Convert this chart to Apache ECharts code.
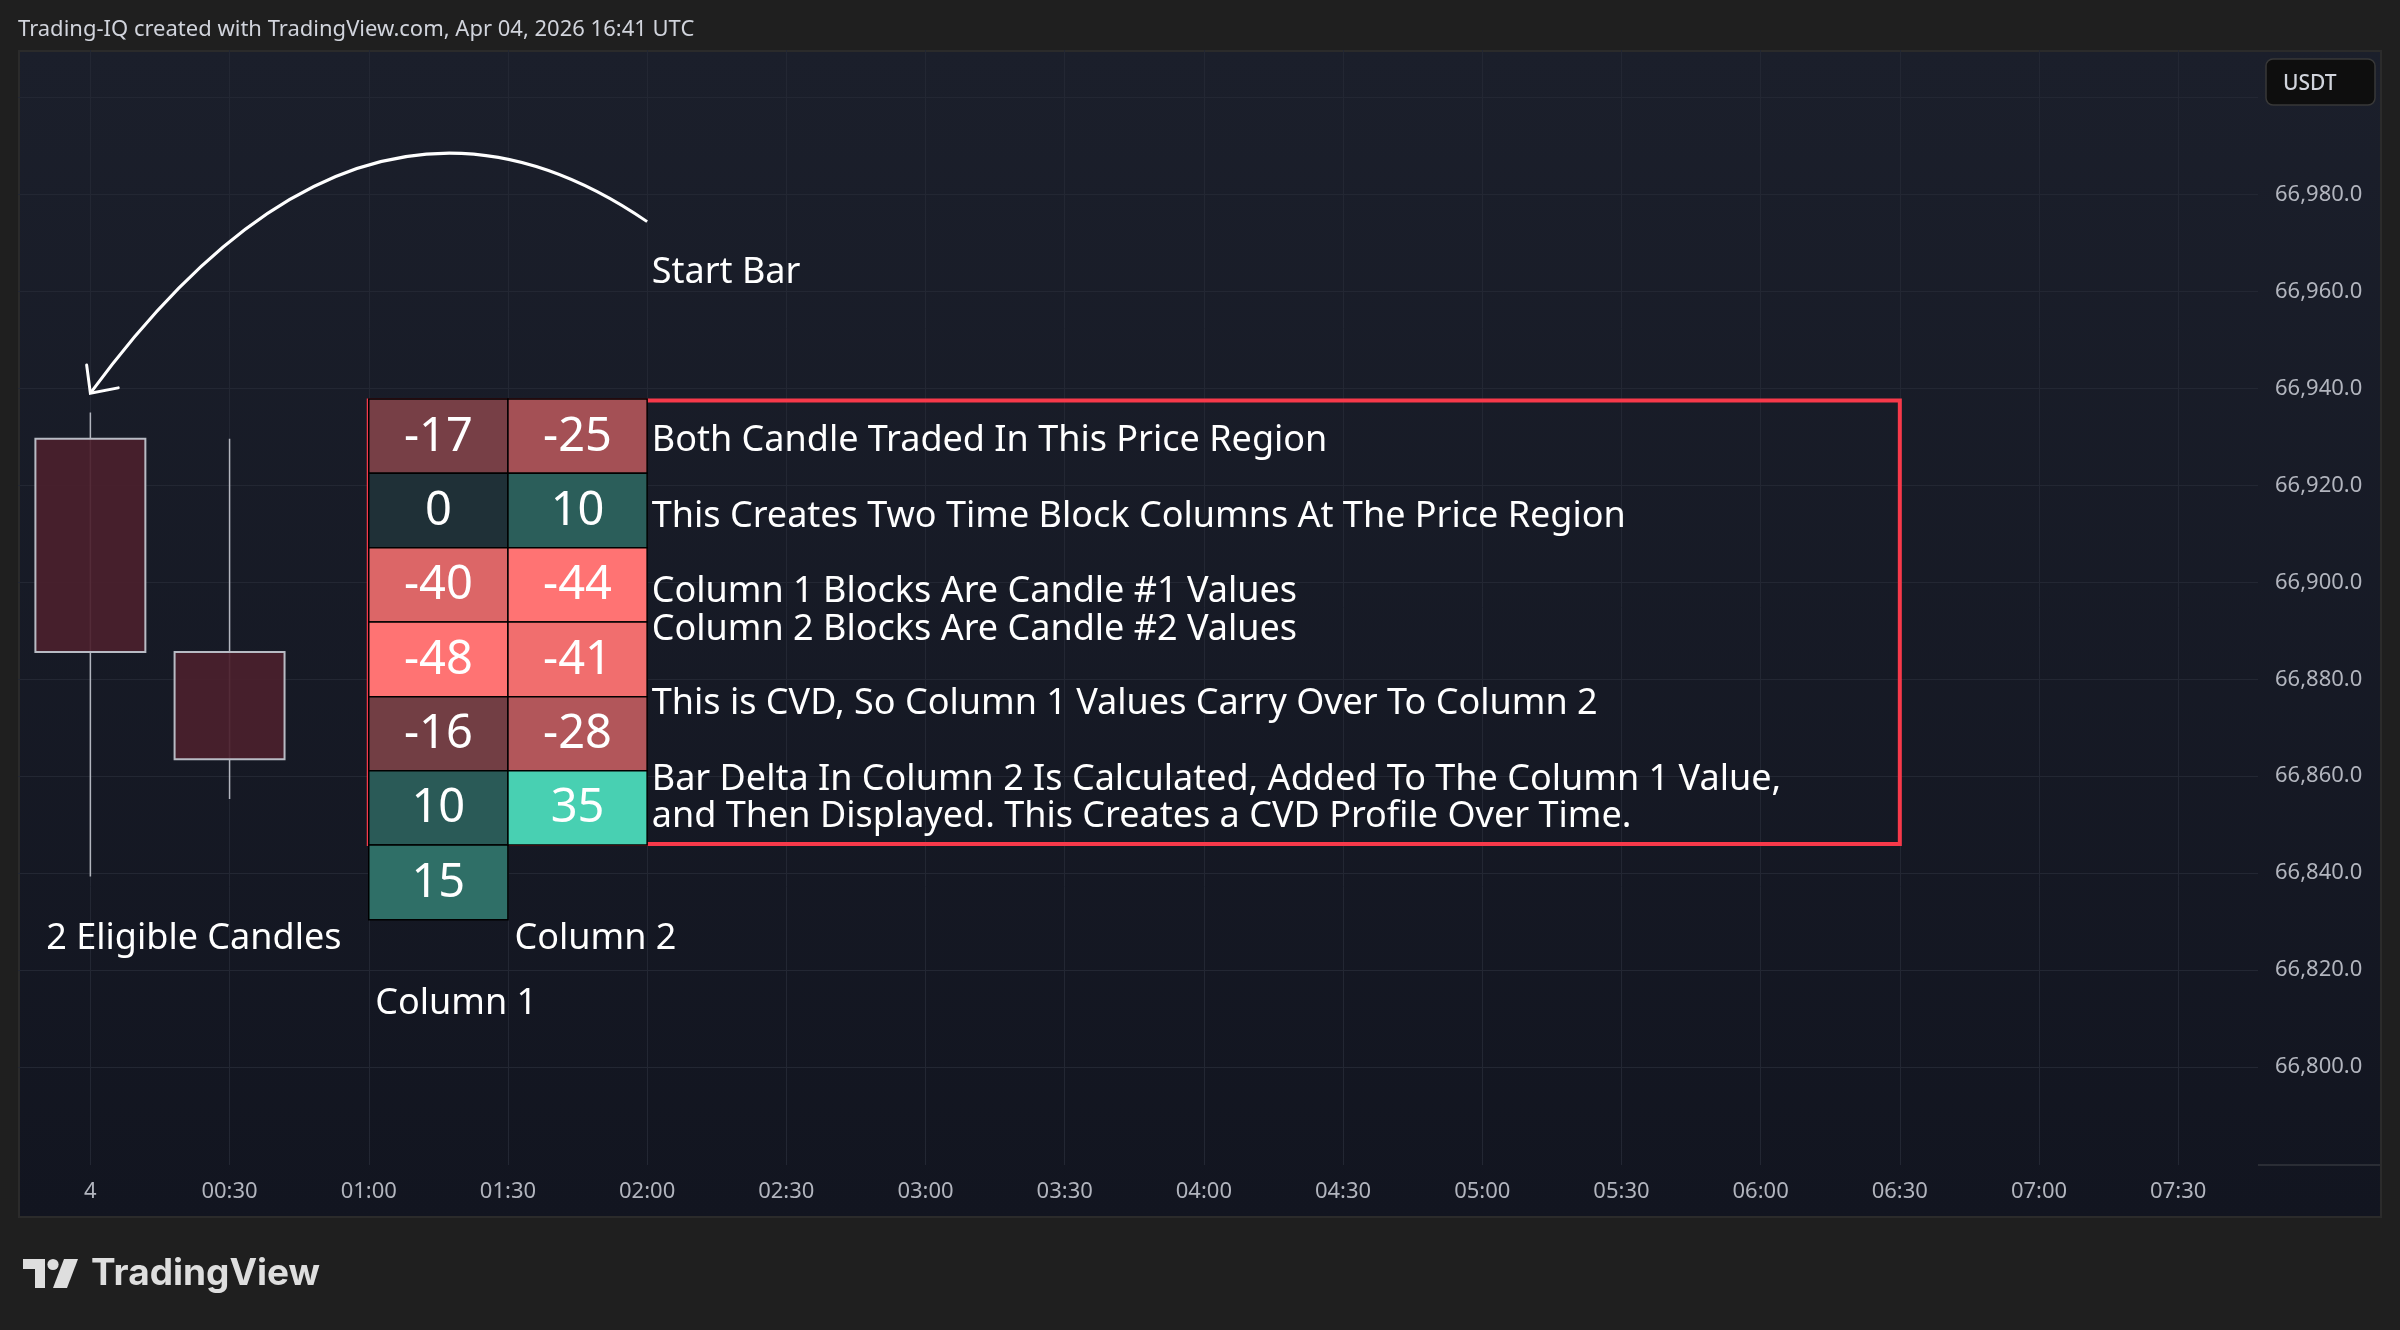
<!DOCTYPE html>
<html>
<head>
<meta charset="utf-8">
<title>CVD Blocks</title>
<script src="https://cdn.jsdelivr.net/npm/echarts@6/dist/echarts.min.js"></script>
<style>
html,body{margin:0;padding:0;background:#1f1f1f;}
#chart{width:2400px;height:1330px;}
</style>
</head>
<body>
<div id="chart"></div>
<script>
// 时间: 4日 00:00 起的分钟数
var timeTicks = [0, 30, 60, 90, 120, 150, 180, 210, 240, 270, 300, 330, 360, 390, 420, 450];
var priceTicks = [66800, 66820, 66840, 66860, 66880, 66900, 66920, 66940, 66960, 66980, 67000];
var priceLabels = [66800, 66820, 66840, 66860, 66880, 66900, 66920, 66940, 66960, 66980];

// 两根30分钟K线
var candleTimes = [0, 30];
var candleOpen = [66929.6, 66885.6];
var candleClose = [66885.6, 66863.5];
var candleLow = [66839.3, 66855.3];
var candleHigh = [66935.0, 66929.6];

// CVD 块 (列边界时间, 行边界价格)
var columnTimes = [60, 90, 120];
var rowEdges = [66937.8, 66922.5, 66907.1, 66891.8, 66876.4, 66861.1, 66845.8, 66830.4];
var column1 = [-17, 0, -40, -48, -16, 10, 15];
var column2 = [-25, 10, -44, -41, -28, 35];

// 红框
var boxTimes = [60, 390];
var boxPrices = [66846, 66937.5];

// 文字标注
var noteTimes = [121, 121, 121, 121, 121, 121, 121, 121, -9.5, 91.4, 61.4];
var notePrices = [66963.8, 66929.2, 66913.5, 66898.0, 66890.2, 66875.0, 66859.2, 66851.6, 66826.4, 66826.4, 66813.1];
var noteTexts = [
  'Start Bar',
  'Both Candle Traded In This Price Region',
  'This Creates Two Time Block Columns At The Price Region',
  'Column 1 Blocks Are Candle #1 Values',
  'Column 2 Blocks Are Candle #2 Values',
  'This is CVD, So Column 1 Values Carry Over To Column 2',
  'Bar Delta In Column 2 Is Calculated, Added To The Column 1 Value,',
  'and Then Displayed. This Creates a CVD Profile Over Time.',
  '2 Eligible Candles',
  'Column 2',
  'Column 1'
];

// 弧形箭头 (起点, 控制点, 终点) 和箭头头部
var arrowTimes = [120, 58.1, 0];
var arrowPrices = [66974.4, 67015, 66939.0];
var headTimes = [-0.8, 0, 6.0];
var headPrices = [66944.8, 66939.0, 66940.1];

var FONT = '"Noto Sans", "Open Sans", sans-serif';

function pad(n){ return n < 10 ? '0' + n : '' + n; }
function timeFmt(v){
  if (v === 0) return '4';
  return pad(Math.floor(v / 60)) + ':' + pad(v % 60);
}
function priceFmt(v){
  var s = v.toFixed(1);
  var ip = s.split('.')[0], dp = s.split('.')[1];
  return ip.slice(0, ip.length - 3) + ',' + ip.slice(ip.length - 3) + '.' + dp;
}

// 颜色: 按列内最大绝对值归一
function mix(a, b, t){
  return 'rgb(' + Math.round(a[0] + (b[0] - a[0]) * t) + ',' + Math.round(a[1] + (b[1] - a[1]) * t) + ',' + Math.round(a[2] + (b[2] - a[2]) * t) + ')';
}
function blockColor(v, maxAbs){
  var t = Math.abs(v) / maxAbs;
  if (v < 0) return mix([44, 35, 45], [255, 115, 115], t);
  return mix([31, 48, 55], [82, 249, 210], t);
}

var blockData = [];
[column1, column2].forEach(function(col, ci){
  var maxAbs = Math.max.apply(null, col.map(Math.abs));
  col.forEach(function(v, ri){
    blockData.push([columnTimes[ci], columnTimes[ci + 1], rowEdges[ri + 1], rowEdges[ri], v, maxAbs]);
  });
});

var candleData = candleTimes.map(function(t, i){
  return [t, candleOpen[i], candleClose[i], candleLow[i], candleHigh[i]];
});

var noteData = noteTimes.map(function(t, i){ return [t, notePrices[i]]; });

var chart = echarts.init(document.getElementById('chart'));

var option = {
  backgroundColor: 'transparent',
  animation: false,
  grid: { left: 18, top: 50, width: 2240, height: 1115 },
  xAxis: {
    type: 'value',
    min: -15.6,
    max: 467.2,
    axisLine: { show: false },
    axisTick: { show: false, customValues: timeTicks },
    axisLabel: {
      customValues: timeTicks,
      formatter: timeFmt,
      color: '#b2b5be',
      fontFamily: FONT,
      fontSize: 22,
      margin: 16
    },
    splitLine: { show: true, lineStyle: { color: '#232733', width: 1 } }
  },
  yAxis: {
    type: 'value',
    position: 'right',
    min: 66779.8,
    max: 67009.8,
    axisLine: { show: false },
    axisTick: { show: false, customValues: priceTicks },
    axisLabel: {
      customValues: priceLabels,
      formatter: priceFmt,
      color: '#b2b5be',
      fontFamily: FONT,
      fontSize: 22,
      margin: 17,
      padding: [4, 0, 0, 0]
    },
    splitLine: { show: true, lineStyle: { color: '#232733', width: 1 } }
  },
  graphic: {
    elements: [
      { type: 'rect', z: -10, shape: { x: 19, y: 51, width: 2362, height: 1166 },
        style: { fill: { type: 'linear', x: 0, y: 0, x2: 0, y2: 1, colorStops: [
          { offset: 0, color: '#1b1f2b' }, { offset: 1, color: '#121520' } ] },
          stroke: '#2b2b2b', lineWidth: 2 } },
      { type: 'line', z: 5, shape: { x1: 2258, y1: 1165, x2: 2380, y2: 1165 }, style: { stroke: '#2a2d35', lineWidth: 2 } },
      { type: 'text', z: 5, x: 18, y: 30, style: { text: 'Trading-IQ created with TradingView.com, Apr 04, 2026 16:41 UTC',
          fill: '#d1d4dc', font: '22px ' + FONT, verticalAlign: 'middle' } },
      { type: 'rect', z: 20, shape: { x: 2266, y: 59, width: 109, height: 46, r: 7 },
        style: { fill: '#0e0e0e', stroke: '#383838', lineWidth: 1.5 } },
      { type: 'text', z: 21, x: 2283, y: 84, style: { text: 'USDT', fill: '#d1d4dc', font: '500 21px ' + FONT, verticalAlign: 'middle' } },
      // TradingView 标志
      { type: 'rect', z: 5, shape: { x: 23, y: 1259, width: 22, height: 10 }, style: { fill: '#dedede' } },
      { type: 'rect', z: 5, shape: { x: 35, y: 1259, width: 10, height: 29 }, style: { fill: '#dedede' } },
      { type: 'circle', z: 5, shape: { cx: 53, cy: 1264.5, r: 5.6 }, style: { fill: '#dedede' } },
      { type: 'polygon', z: 5, shape: { points: [[64, 1259], [78, 1259], [67, 1288], [53, 1288]] }, style: { fill: '#dedede' } },
      { type: 'text', z: 5, x: 91, y: 1274, style: { text: 'TradingView', fill: '#dedede', font: '700 37px Inter, ' + FONT, verticalAlign: 'middle' } }
    ]
  },
  series: [
    {
      // 红框
      type: 'custom',
      z: 2,
      data: [[boxTimes[0], boxTimes[1], boxPrices[0], boxPrices[1]]],
      renderItem: function(params, api){
        var a = api.coord([api.value(0), api.value(3)]);
        var b = api.coord([api.value(1), api.value(2)]);
        return { type: 'rect', shape: { x: a[0], y: a[1], width: b[0] - a[0], height: b[1] - a[1] },
          style: { fill: 'none', stroke: '#f7394a', lineWidth: 4 } };
      }
    },
    {
      // K线
      type: 'custom',
      z: 3,
      data: candleData,
      renderItem: function(params, api){
        var t = api.value(0);
        var o = api.coord([t, api.value(1)]);
        var c = api.coord([t, api.value(2)]);
        var lo = api.coord([t, api.value(3)]);
        var hi = api.coord([t, api.value(4)]);
        var w = api.size([30, 0])[0] * 0.79;
        var top = Math.min(o[1], c[1]), bot = Math.max(o[1], c[1]);
        return { type: 'group', children: [
          { type: 'line', shape: { x1: hi[0], y1: hi[1], x2: lo[0], y2: lo[1] }, style: { stroke: '#b2b5be', lineWidth: 1.5 } },
          { type: 'rect', shape: { x: o[0] - w / 2, y: top, width: w, height: bot - top },
            style: { fill: 'rgba(75,31,44,0.92)', stroke: '#b8bbc4', lineWidth: 2 } }
        ] };
      }
    },
    {
      // CVD 块
      type: 'custom',
      z: 4,
      data: blockData,
      renderItem: function(params, api){
        var a = api.coord([api.value(0), api.value(3)]);
        var b = api.coord([api.value(1), api.value(2)]);
        var v = api.value(4);
        return { type: 'group', children: [
          { type: 'rect', shape: { x: a[0], y: a[1], width: b[0] - a[0], height: b[1] - a[1] },
            style: { fill: blockColor(v, api.value(5)), stroke: '#000', lineWidth: 1.5 } },
          { type: 'text', x: (a[0] + b[0]) / 2, y: (a[1] + b[1]) / 2 + 1,
            style: { text: String(v), fill: '#ffffff', font: '47px ' + FONT, align: 'center', verticalAlign: 'middle' } }
        ] };
      }
    },
    {
      // 文字
      type: 'custom',
      z: 5,
      data: noteData,
      renderItem: function(params, api){
        var p = api.coord([api.value(0), api.value(1)]);
        return { type: 'text', x: p[0], y: p[1],
          style: { text: noteTexts[params.dataIndex], fill: '#ffffff', font: '36px ' + FONT, align: 'left', verticalAlign: 'middle' } };
      }
    },
    {
      // 箭头
      type: 'custom',
      z: 5,
      data: [[0, 0]],
      renderItem: function(params, api){
        var s = api.coord([arrowTimes[0], arrowPrices[0]]);
        var cp = api.coord([arrowTimes[1], arrowPrices[1]]);
        var e = api.coord([arrowTimes[2], arrowPrices[2]]);
        var h = headTimes.map(function(t, i){ return api.coord([t, headPrices[i]]); });
        return { type: 'group', children: [
          { type: 'bezierCurve', shape: { x1: s[0], y1: s[1], x2: e[0], y2: e[1], cpx1: cp[0], cpy1: cp[1] },
            style: { stroke: '#ffffff', lineWidth: 3, fill: 'none' } },
          { type: 'polyline', shape: { points: h }, style: { stroke: '#ffffff', lineWidth: 3, fill: 'none', lineCap: 'round', lineJoin: 'miter' } }
        ] };
      }
    }
  ]
};

chart.setOption(option);
</script>
</body>
</html>
